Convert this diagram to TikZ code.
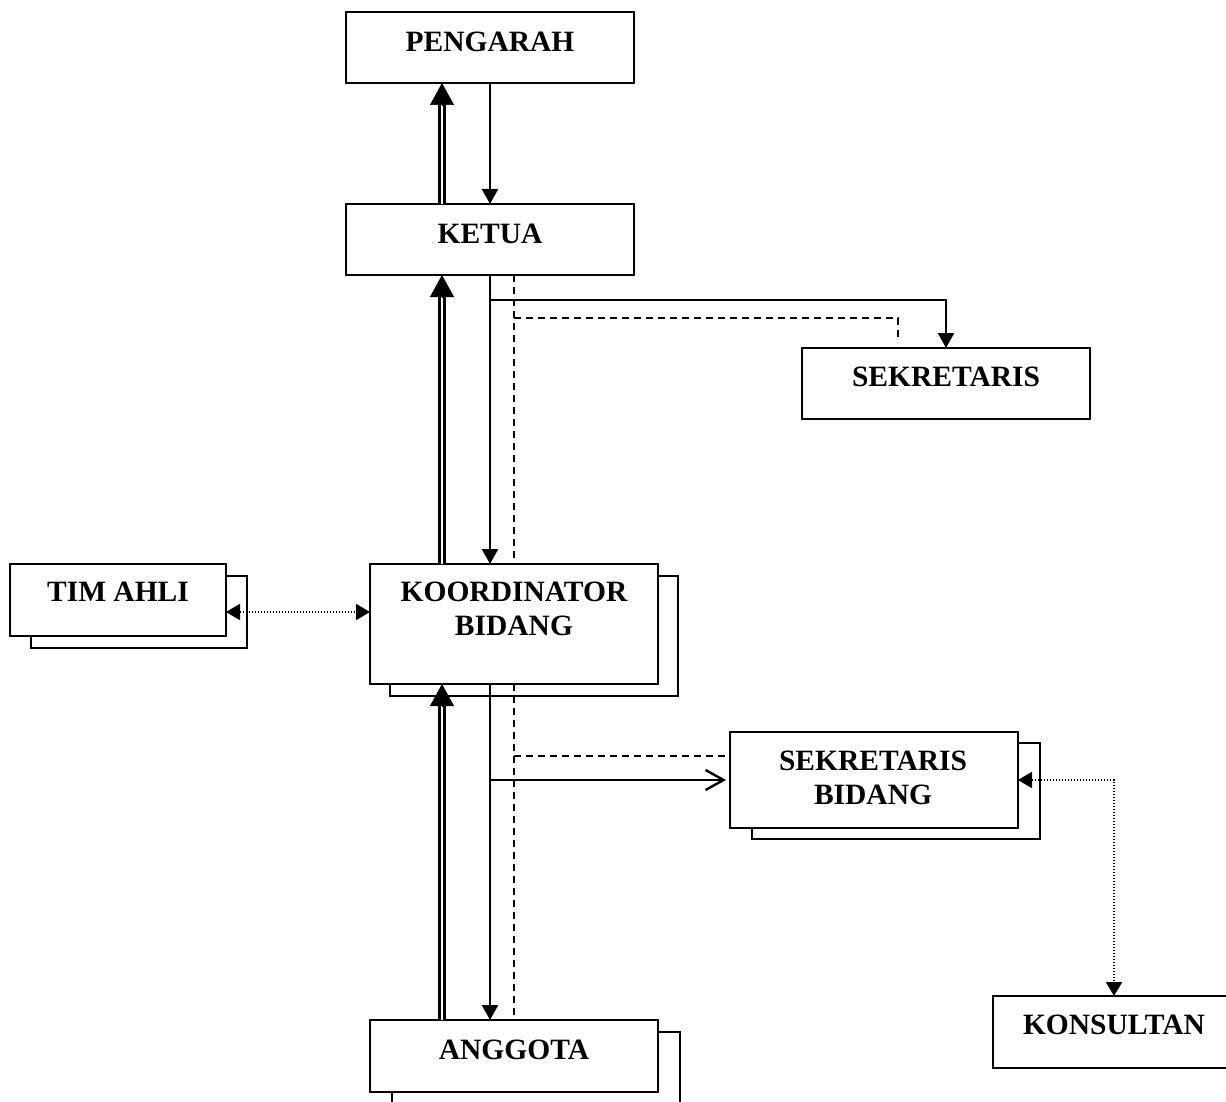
\documentclass[tikz,border=0pt]{standalone}
\usepackage{fontspec}
\setmainfont{Liberation Serif}
\usetikzlibrary{arrows.meta,calc}
\begin{document}
\begin{tikzpicture}[x=1pt,y=-1pt,
  box/.style={draw, line width=2.6pt, fill=white, inner sep=0pt, outer sep=0pt, minimum width=288pt},
  lbl/.style={inner sep=0pt, font=\bfseries\fontsize{29.5}{34}\selectfont, align=center},
  conn/.style={line width=2.4pt},
  dbl/.style={double, double distance=2.4pt, line width=2.5pt},
  bigtip/.style={-{Triangle[length=22pt,width=24pt]}, line width=0.5pt},
  smalltip/.style={-{Triangle[length=15pt,width=16pt]}},
  dsh/.style={line width=2.4pt, dash pattern=on 7pt off 5pt},
  dotl/.style={line width=2pt, dash pattern=on 1.6pt off 1.4pt},
  bothtips/.style={{Triangle[length=14pt,width=16pt]}-{Triangle[length=14pt,width=16pt]}},
]
\useasboundingbox (0,0) rectangle (1226,1102);
\fill[white] (0,0) rectangle (1226,1102);

% shadow boxes
\node[box, minimum width=216pt, minimum height=72pt] (tsh) at (139,612) {};
\node[box, minimum height=120pt] (kbsh) at (534,636) {};
\node[box, minimum height=96pt] (sbsh) at (896,791) {};
\node[box, minimum height=72pt] (ash) at (536,1068) {};

% main boxes
\node[box, minimum height=71pt] (p) at (490,47.5) {};
\node[box, minimum height=71pt] (k) at (490,239.5) {};
\node[box, minimum height=71pt] (s) at (946,383.5) {};
\node[box, minimum width=216pt, minimum height=72pt] (t) at (118,600) {};
\node[box, minimum height=120pt] (kb) at (514,624) {};
\node[box, minimum height=96pt] (sb) at (874,780) {};
\node[box, minimum width=242pt, minimum height=72pt] (ko) at (1114,1032) {};
\node[box, minimum height=72pt] (a) at (514,1056) {};

% labels
\node[lbl] (pt) at (490,42) {PENGARAH};
\node[lbl] (kt) at (490,234) {KETUA};
\node[lbl] (st) at (946,377) {SEKRETARIS};
\node[lbl] (tt) at (118,592) {TIM AHLI};
\node[lbl] (kbt) at (514,609) {KOORDINATOR\\BIDANG};
\node[lbl] (sbt) at (873,778) {SEKRETARIS\\BIDANG};
\node[lbl] (kot) at (1114,1025) {KONSULTAN};
\node[lbl] (at) at (514,1049.5) {ANGGOTA};

% column coordinates
\coordinate (A) at (442,0);
\coordinate (B) at (490,0);
\coordinate (C) at (514,0);
\coordinate (j1) at (490,300);
\coordinate (j2) at (514,318);
\coordinate (j2e) at (898,342);
\coordinate (jb1) at (490,780);
\coordinate (jb2) at (514,756);
\coordinate (rowT) at (0,612);

% Ketua -> Pengarah (double) and Pengarah -> Ketua
\draw[dbl] (k.north -| A) -- ($(p.south -| A)+(0,20)$);
\draw[bigtip] ($(p.south -| A)+(0,23)$) -- (p.south -| A);
\draw[conn, smalltip] (p.south -| B) -- (k.north -| B);

% Koordinator -> Ketua (double) and Ketua -> Koordinator
\draw[dbl] (kb.north -| A) -- ($(k.south -| A)+(0,20)$);
\draw[bigtip] ($(k.south -| A)+(0,23)$) -- (k.south -| A);
\draw[conn, smalltip] (k.south -| B) -- (kb.north -| B);
\draw[dsh] (k.south -| C) -- (kb.north -| C);

% Ketua -> Sekretaris
\draw[conn, smalltip] (j1) -| (s.north);
\draw[dsh] (j2) -| (j2e);

% Anggota -> Koordinator (double) and Koordinator -> Anggota
\draw[dbl] (a.north -| A) -- ($(kb.south -| A)+(0,20)$);
\draw[bigtip] ($(kb.south -| A)+(0,23)$) -- (kb.south -| A);
\draw[conn, smalltip] (kb.south -| B) -- (a.north -| B);
\draw[dsh] (kb.south -| C) -- (a.north -| C);

% Koordinator -> Sekretaris Bidang
\draw[conn, -{Straight Barb[length=18pt,width=20pt]}, shorten >=4pt] (jb1) -- (sb.west |- jb1);
\draw[dsh] (jb2) -- (sb.west |- jb2);

% dotted links
\draw[dotl, bothtips] (t.east |- rowT) -- (kb.west |- rowT);
\draw[dotl, bothtips] (sb.east) -| (ko.north);
\end{tikzpicture}
\end{document}
